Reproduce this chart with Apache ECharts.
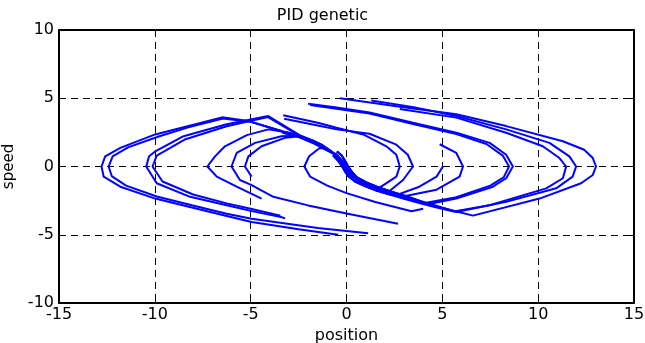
<!DOCTYPE html>
<html>
<head>
<meta charset="utf-8">
<script src="https://cdn.jsdelivr.net/npm/echarts@6/dist/echarts.min.js"></script>
<style>html,body{margin:0;padding:0;background:#fff}#c{width:645px;height:343px}</style>
</head>
<body>
<div id="c"></div>
<script>
// ---- axis ticks ----
const xTicks = [-15, -10, -5, 0, 5, 10, 15];
const yTicks = [-10, -5, 0, 5, 10];

// ---- sliding (S-shaped) curve through the origin, three close strands ----
const sUpperA = [[-3.3,2.5],[-2.5,2.25],[-1.8,1.85],[-1.2,1.45],[-0.7,1.0],[-0.35,0.55],[-0.12,0.1],[0.05,-0.3],[0.25,-0.7]];
const sUpperB = [[-3.3,2.45],[-2.5,2.17],[-1.8,1.76],[-1.2,1.32],[-0.6,0.88],[-0.22,0.42],[0.02,0.0],[0.18,-0.4],[0.45,-0.8]];
const sUpperC = [[-3.3,2.55],[-2.5,2.3],[-1.8,1.93],[-1.25,1.56],[-0.8,1.12],[-0.45,0.66],[-0.25,0.2],[-0.08,-0.25],[0.12,-0.62]];
const sLowerA = [[5.7,-3.25],[4.6,-2.9],[3.8,-2.6],[3.0,-2.25],[2.3,-1.95],[1.6,-1.65],[1.0,-1.3],[0.55,-0.98],[0.2,-0.6],[0.02,-0.25],[-0.12,0.1],[-0.35,0.6],[-0.6,0.95]];
const sLowerB = [[5.7,-3.2],[4.6,-2.83],[3.8,-2.5],[3.0,-2.13],[2.3,-1.82],[1.6,-1.5],[1.0,-1.15],[0.55,-0.8],[0.28,-0.4],[0.1,-0.05],[-0.05,0.35],[-0.25,0.8],[-0.5,1.1]];
const sLowerC = [[5.7,-3.3],[4.6,-2.97],[3.8,-2.68],[3.0,-2.36],[2.3,-2.07],[1.6,-1.78],[1.0,-1.45],[0.45,-1.1],[0.1,-0.72],[-0.08,-0.35],[-0.22,0.0],[-0.45,0.45],[-0.7,0.82]];

// ---- trajectories looping to the right (start above, moving right) ----
const r13 = [[-0.35,5.0],[2.7,4.4],[5.73,3.83],[8.33,2.96],[11.29,1.85],[12.4,1.23],[12.85,0.62],[13.02,0],[12.85,-0.62],[12.24,-1.23],[10.07,-2.35],[6.6,-3.6],[5.75,-3.3]];
const r12 = [[1.3,4.84],[3.5,4.35],[5.73,3.7],[8.33,2.72],[10.59,1.73],[11.63,0.74],[11.98,0],[11.8,-0.74],[10.94,-1.6],[8.33,-2.59],[5.73,-3.33]];
const r114 = [[2.78,4.22],[5.73,3.58],[8.33,2.47],[10.24,1.48],[11.11,0.62],[11.46,0],[11.29,-0.86],[10.42,-1.6],[7.47,-2.84],[5.6,-3.3]];
const r87 = [[-2.0,4.6],[-0.52,4.32],[1.2,3.95],[3.47,3.2],[5.73,2.47],[7.47,1.73],[8.33,0.86],[8.68,0],[8.33,-0.86],[7.64,-1.48],[5.73,-2.35],[4.3,-2.75]];
const r85 = [[-1.9,4.5],[1.2,3.88],[3.47,3.12],[5.73,2.37],[7.3,1.65],[8.15,0.8],[8.48,0],[8.2,-0.8],[7.5,-1.4],[5.73,-2.25],[4.1,-2.68]];
const r34 = [[-3.25,3.5],[-1.5,3.0],[-0.52,2.72],[1.2,2.4],[2.6,1.6],[3.2,0.86],[3.47,0],[2.95,-0.99],[2.2,-1.85]];
const r27 = [[-3.3,3.75],[-1.5,3.2],[-0.52,2.84],[0.87,2.35],[2.08,1.48],[2.6,0.86],[2.78,0],[2.6,-0.74],[1.73,-1.55]];
const r60 = [[4.86,1.63],[5.73,0.99],[6.08,0],[5.9,-0.74],[4.7,-1.7],[2.95,-2.2]];
const r50 = [[5.03,0],[4.7,-0.74],[3.8,-1.48],[2.6,-2.1]];

// ---- trajectories looping to the left (start below, moving left) ----
const l128 = [[-0.43,-5.0],[-2.5,-4.6],[-4.95,-4.07],[-6.25,-3.62],[-8.07,-3.0],[-9.98,-2.35],[-11.8,-1.48],[-12.67,-0.74],[-12.78,0],[-12.59,0.74],[-11.8,1.36],[-9.98,2.35],[-8.6,2.84],[-6.5,3.6],[-5.12,3.33],[-3.4,2.6]];
const l124 = [[1.13,-4.89],[-1.5,-4.5],[-4.95,-3.83],[-6.25,-3.46],[-8.07,-2.84],[-9.9,-2.2],[-11.5,-1.4],[-12.25,-0.7],[-12.41,0],[-12.2,0.74],[-11.4,1.4],[-9.8,2.2],[-8.3,2.85],[-6.45,3.52],[-5.0,3.27],[-3.4,2.6]];
const l105 = [[-3.2,-3.8],[-3.42,-3.7],[-5.0,-3.25],[-6.25,-2.84],[-8.16,-2.22],[-9.9,-1.23],[-10.45,0],[-10.3,0.75],[-9.98,1.1],[-8.5,2.22],[-6.25,3.09],[-4.08,3.7],[-2.45,2.3]];
const l101 = [[-3.45,-3.6],[-5.0,-3.1],[-6.25,-2.7],[-8.0,-2.05],[-9.6,-1.1],[-10.12,0],[-9.9,0.8],[-8.4,2.0],[-6.25,2.95],[-4.1,3.62],[-2.5,2.3]];
const l72 = [[-4.43,-2.35],[-5.73,-1.48],[-6.77,-0.74],[-7.26,0],[-6.86,0.74],[-6.34,1.48],[-5.2,2.3],[-4.08,2.72],[-2.9,2.45]];
const l60 = [[2.69,-4.2],[0,-3.45],[-2.0,-2.85],[-3.82,-2.22],[-4.95,-1.36],[-5.56,-0.99],[-6.0,0],[-5.73,0.99],[-4.77,1.73],[-3.39,2.22],[-2.6,2.25]];
const l53 = [[-4.95,-0.74],[-5.3,0],[-5.12,0.74],[-4.43,1.48],[-3.21,2.1],[-2.55,2.2]];
const l22 = [[4.0,-3.09],[3.39,-3.28],[1.5,-2.6],[0,-1.95],[-1.0,-1.4],[-1.9,-0.74],[-2.2,0],[-1.95,0.75],[-1.4,1.35]];

const rightSet = [r13, r12, r114, r87, r85, r34, r27, r60, r50];
const leftSet = [l128, l124, l105, l101, l72, l60, l53, l22];
const uppers = [sUpperA, sUpperB, sUpperC];
const lowers = [sLowerA, sLowerB, sLowerC];

function joinUpper(tr, s) {
  const lastX = tr[tr.length - 1][0];
  return tr.concat(s.filter(p => p[0] > lastX));
}
function joinLower(tr, s) {
  const lastX = tr[tr.length - 1][0];
  return tr.concat(s.filter(p => p[0] < lastX));
}

const series = [];
rightSet.forEach((tr, i) => series.push(joinLower(tr, lowers[i % 3])));
leftSet.forEach((tr, i) => series.push(joinUpper(tr, uppers[i % 3])));

const font = 'DejaVu Sans';
const chart = echarts.init(document.getElementById('c'), null, {renderer: 'canvas'});
const dash = {color: '#000', width: 1, type: [7, 5]};
const frame = {show: true, onZero: false, lineStyle: {color: '#000', width: 2}};
const tick = {show: true, inside: true, length: 5, lineStyle: {color: '#000'}};
chart.setOption({
  animation: false,
  backgroundColor: '#fff',
  title: {
    text: 'PID genetic', left: 'center', top: 3,
    textStyle: {fontFamily: font, fontSize: 16, fontWeight: 'normal', color: '#000'}
  },
  grid: {left: 59, top: 30, width: 575, height: 273, show: false, containLabel: false, outerBoundsMode: 'none'},
  xAxis: [{
    type: 'value', min: -15, max: 15, interval: 5, position: 'bottom',
    name: 'position', nameLocation: 'middle', nameGap: 23,
    nameTextStyle: {fontFamily: font, fontSize: 16, color: '#000'},
    axisLine: frame, axisTick: tick,
    axisLabel: {fontFamily: font, fontSize: 16, color: '#000', margin: 4,
      formatter: v => xTicks.includes(v) ? String(v) : ''},
    splitLine: {show: true, lineStyle: dash}
  }, {
    type: 'value', min: -15, max: 15, interval: 5, position: 'top',
    axisLine: frame, axisTick: tick,
    axisLabel: {show: false}, splitLine: {show: false}
  }],
  yAxis: [{
    type: 'value', min: -10, max: 10, interval: 5, position: 'left',
    name: 'speed', nameLocation: 'middle', nameGap: 39, nameRotate: 90,
    nameTextStyle: {fontFamily: font, fontSize: 15, color: '#000'},
    axisLine: frame, axisTick: tick,
    axisLabel: {fontFamily: font, fontSize: 16, color: '#000', margin: 5,
      formatter: v => yTicks.includes(v) ? String(v) : ''},
    splitLine: {show: true, lineStyle: dash}
  }, {
    type: 'value', min: -10, max: 10, interval: 5, position: 'right',
    axisLine: frame, axisTick: tick,
    axisLabel: {show: false}, splitLine: {show: false}
  }],
  series: series.map(d => ({
    type: 'line', data: d, xAxisIndex: 0, yAxisIndex: 0,
    showSymbol: false, symbol: 'none', smooth: false,
    lineStyle: {color: '#0000ff', width: 2}, z: 3
  }))
});
</script>
</body>
</html>
